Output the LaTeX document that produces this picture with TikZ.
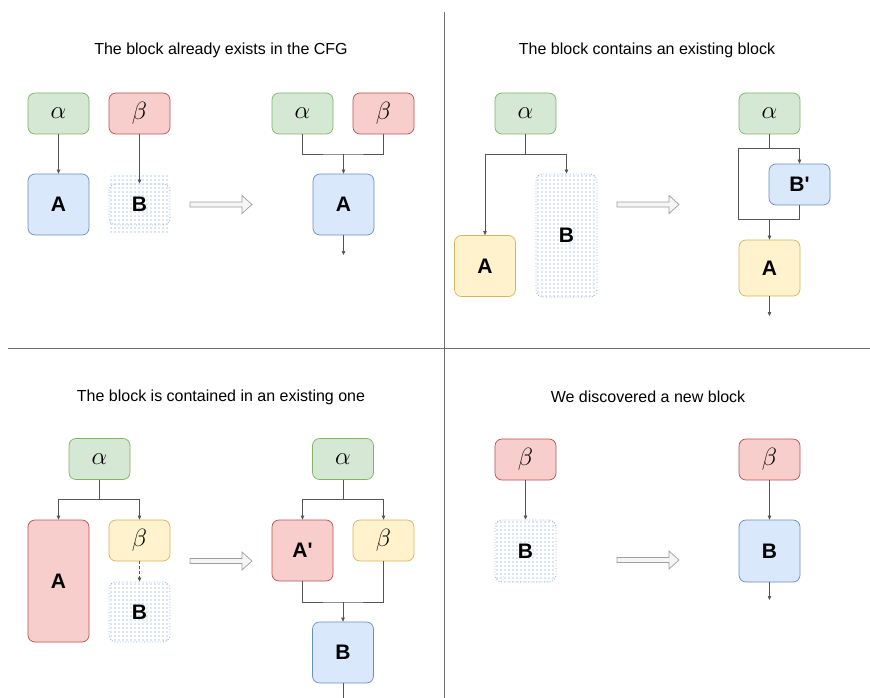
\documentclass[tikz,border=0pt]{standalone}
\usepackage{fontspec}
\setmainfont{Liberation Sans}
\usetikzlibrary{arrows.meta,calc}

\definecolor{gfill}{HTML}{D5E8D4}\definecolor{gline}{HTML}{82B366}
\definecolor{rfill}{HTML}{F8CECC}\definecolor{rline}{HTML}{B85450}
\definecolor{bfill}{HTML}{DAE8FC}\definecolor{bline}{HTML}{6C8EBF}
\definecolor{yfill}{HTML}{FFF2CC}\definecolor{yline}{HTML}{D6B656}
\definecolor{edge}{HTML}{555555}
\definecolor{sep}{HTML}{707070}
\definecolor{dotc}{HTML}{B8CFF2}

\newcommand{\dotgrid}[4]{% x1 y1 x2 y2 : dotted pattern inside a rounded box
  \begin{scope}
    \clip[rounded corners=7] (#1,#2) rectangle (#3,#4);
    \pgfmathsetmacro{\nx}{int((#3-#1)/4)}%
    \pgfmathsetmacro{\ny}{int((#4-#2)/4)}%
    \foreach \i in {0,...,\nx}{
      \foreach \j in {0,...,\ny}{
        \fill[dotc] ({#1+2+4*\i},{#2+2+4*\j}) circle (0.95);
      }
    }
  \end{scope}}

\tikzset{
  blk/.style={draw, rounded corners=7, inner sep=0, line width=0.7pt,
    minimum width=61pt, minimum height=41pt},
  sq/.style={blk, minimum height=61pt},
  green/.style={fill=gfill, draw=gline},
  red/.style={fill=rfill, draw=rline},
  blue/.style={fill=bfill, draw=bline},
  yellow/.style={fill=yfill, draw=yline},
  ghost/.style={blk, draw=bline!80, dotted, line width=0.9pt},
  lab/.style={font=\fontsize{21}{21}\selectfont\bfseries},
  gk/.style={font=\fontsize{25}{25}\selectfont},
  title/.style={font=\fontsize{16}{18}\selectfont},
  arr/.style={draw=edge, line width=0.7pt, -{Triangle[length=4pt,width=3.5pt]}},
  ln/.style={draw=edge, line width=0.7pt},
  bigarr/.style={draw=gray!75, fill=gray!8, line width=0.7pt, line join=miter},
}

\newcommand{\fatarrow}[2]{% left x, centre y
  \draw[bigarr] (#1,#2-2.5) -- (#1+52,#2-2.5) -- (#1+52,#2-9) -- (#1+62,#2)
    -- (#1+52,#2+9) -- (#1+52,#2+2.5) -- (#1,#2+2.5) -- cycle;}

\begin{document}
\begin{tikzpicture}[x=1pt,y=-1pt]
\useasboundingbox[fill=white] (0,0) rectangle (870,698);

% panel separators
\draw[sep, line width=1pt] (444,12) -- (444,698);
\draw[sep, line width=1pt] (8,348) -- (870,348);

% titles
\node[title] (t1) at (221,50) {The block already exists in the CFG};
\node[title] (t2) at (647,50) {The block contains an existing block};
\node[title] (t3) at (221,397) {The block is contained in an existing one};
\node[title] (t4) at (648,397) {We discovered a new block};

% ---------- panel 1 ----------
\node[blk,green,gk] (a1) at (58.5,113.5) {$\alpha$};
\node[blk,red,gk] (b1) at (139.5,113.5) {$\beta$};
\node[sq,blue,lab] (A1) at (58.5,204.5) {A};
\dotgrid{109}{174}{170}{235}
\node[sq,ghost,lab] (B1) at (139.5,204.5) {B};
\draw[arr] (a1) -- (A1);
\draw[arr] (b1) -- (B1);
\fatarrow{190}{204.5}

\node[blk,green,gk] (a2) at (302.5,113.5) {$\alpha$};
\node[blk,red,gk] (b2) at (383.5,113.5) {$\beta$};
\node[sq,blue,lab] (A2) at (343.5,204.5) {A};
\coordinate (j1) at (343.5,154);
\coordinate (o1) at (343.5,255);
\draw[ln] (a2.south) |- (j1) -| (b2.south);
\draw[arr] (j1) -- (A2.north);
\draw[arr] (A2.south) -- (o1);

% ---------- panel 2 ----------
\node[blk,green,gk] (a3) at (525.5,113.5) {$\alpha$};
\node[sq,yellow,lab] (A3) at (485,266) {A};
\dotgrid{536}{174}{597}{297}
\node[ghost,lab,minimum height=123pt] (B3) at (566.5,235.5) {B};
\coordinate (j2) at (525.5,154);
\draw[ln] (a3.south) -- (j2);
\draw[arr] (j2) -| (A3.north);
\draw[arr] (j2) -| (B3.north);
\fatarrow{617}{204.5}

\node[blk,green,gk] (a4) at (769.5,113.5) {$\alpha$};
\node[blk,blue,lab] (Bp) at (799.5,184.5) {B\textquotesingle};
\node[sq,yellow,lab,minimum height=56pt] (A4) at (769.5,268) {A};
\coordinate (s4) at (769.5,148);
\coordinate (m4) at (769.5,219);
\coordinate (o4) at (769.5,316);
\draw[ln] (a4.south) -- (s4);
\draw[arr] (s4) -| (Bp.north);
\draw[ln] (s4) -| (738.5,219) -- (m4);
\draw[ln] (Bp.south) |- (m4);
\draw[arr] (m4) -- (A4.north);
\draw[arr] (A4.south) -- (o4);

% ---------- panel 3 ----------
\node[blk,green,gk] (a5) at (99.5,459) {$\alpha$};
\node[sq,red,lab,minimum height=122pt] (A5) at (58.5,581) {A};
\node[blk,yellow,gk] (b5) at (139.5,540.5) {$\beta$};
\dotgrid{109}{582}{170}{642}
\node[sq,ghost,lab,minimum height=60pt] (B5) at (139.5,612) {B};
\coordinate (j5) at (99.5,499);
\draw[ln] (a5.south) -- (j5);
\draw[arr] (j5) -| (A5.north);
\draw[arr] (j5) -| (b5.north);
\draw[arr, densely dashed] (b5.south) -- (B5.north);
\fatarrow{190}{561}

\node[blk,green,gk] (a6) at (343,459) {$\alpha$};
\node[sq,red,lab] (Ap) at (302.5,550.5) {A\textquotesingle};
\node[blk,yellow,gk] (b6) at (383.5,540.5) {$\beta$};
\node[sq,blue,lab] (B6) at (343,652.5) {B};
\coordinate (j6) at (343,499);
\coordinate (m6) at (343,602);
\coordinate (o6) at (343,699);
\draw[ln] (a6.south) -- (j6);
\draw[arr] (j6) -| (Ap.north);
\draw[arr] (j6) -| (b6.north);
\draw[ln] (Ap.south) |- (m6) -| (b6.south);
\draw[arr] (m6) -- (B6.north);
\draw[ln] (B6.south) -- (o6);

% ---------- panel 4 ----------
\node[blk,red,gk] (b7) at (525.5,459.5) {$\beta$};
\dotgrid{495}{520}{556}{582}
\node[sq,ghost,lab,minimum height=62pt] (B7) at (525.5,551) {B};
\draw[arr] (b7) -- (B7);
\fatarrow{617}{560}

\node[blk,red,gk] (b8) at (769.5,459.5) {$\beta$};
\node[sq,blue,lab,minimum height=62pt] (B8) at (769.5,551) {B};
\coordinate (o8) at (769.5,600);
\draw[arr] (b8) -- (B8);
\draw[arr] (B8.south) -- (o8);
\end{tikzpicture}
\end{document}
